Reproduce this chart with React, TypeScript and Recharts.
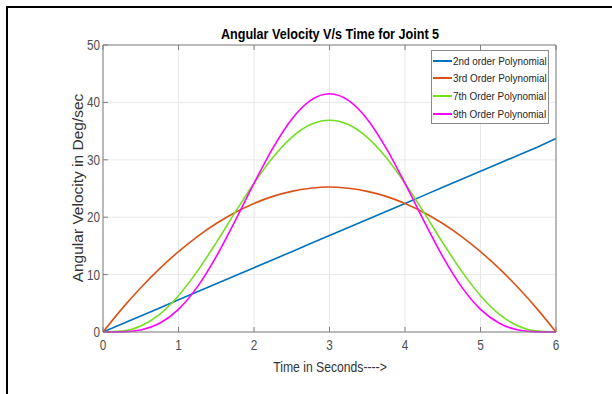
import React from "react";
import {
  LineChart,
  Line,
  XAxis,
  YAxis,
  CartesianGrid,
  Legend,
} from "recharts";

const times = [
  0, 0.25, 0.5, 0.75, 1, 1.25, 1.5, 1.75, 2, 2.25, 2.5, 2.75, 3, 3.25, 3.5,
  3.75, 4, 4.25, 4.5, 4.75, 5, 5.25, 5.5, 5.75, 6,
];
const secondOrder = [
  0, 1.4, 2.8, 4.2, 5.6, 7.0, 8.4, 9.8, 11.2, 12.6, 14.0, 15.4, 16.8, 18.2,
  19.6, 21.0, 22.4, 23.8, 25.2, 26.6, 28.0, 29.4, 30.8, 32.2, 33.7,
];
const thirdOrder = [
  0, 4.03, 7.7, 11.03, 14.0, 16.63, 18.9, 20.83, 22.4, 23.63, 24.5, 25.03,
  25.25, 25.03, 24.5, 23.63, 22.4, 20.83, 18.9, 16.63, 14.0, 11.03, 7.7, 4.03,
  0,
];
const seventhOrder = [
  0, 0.15, 1.05, 3.09, 6.33, 10.6, 15.57, 20.83, 25.92, 30.41, 33.91, 36.14,
  36.9, 36.14, 33.91, 30.41, 25.92, 20.83, 15.57, 10.6, 6.33, 3.09, 1.05, 0.15,
  0,
];
const ninthOrder = [
  0, 0.03, 0.36, 1.52, 3.95, 7.86, 13.13, 19.35, 25.9, 32.05, 37.08, 40.35,
  41.5, 40.35, 37.08, 32.05, 25.9, 19.35, 13.13, 7.86, 3.95, 1.52, 0.36, 0.03,
  0,
];
const xTicks = [0, 1, 2, 3, 4, 5, 6];
const yTicks = [0, 10, 20, 30, 40, 50];

const series = [
  { key: "second", name: "2nd order Polynomial", color: "#0072BD" },
  { key: "third", name: "3rd Order Polynomial", color: "#D95319" },
  { key: "seventh", name: "7th Order Polynomial", color: "#77DD22" },
  { key: "ninth", name: "9th Order Polynomial", color: "#FF00FF" },
];

const data = times.map((t, i) => ({
  t,
  second: secondOrder[i],
  third: thirdOrder[i],
  seventh: seventhOrder[i],
  ninth: ninthOrder[i],
}));

const font = "'Liberation Sans', Arial, sans-serif";
const axisColor = "#808080";
const squeeze = 0.84;

// MATLAB-ish narrow tick labels
const XTick = (props: any) => {
  const { x, y, payload } = props;
  return (
    <text
      transform={`translate(${x},${y}) scale(${squeeze},1)`}
      textAnchor="middle"
      dy="0.71em"
      fill="#4d4d4d"
      fontSize={14}
      fontFamily={font}
    >
      {payload.value}
    </text>
  );
};

const YTick = (props: any) => {
  const { x, y, payload } = props;
  return (
    <text
      transform={`translate(${x},${y}) scale(${squeeze},1)`}
      textAnchor="end"
      dy="0.355em"
      fill="#4d4d4d"
      fontSize={14}
      fontFamily={font}
    >
      {payload.value}
    </text>
  );
};

const LegendBox = () => (
  <div
    style={{
      border: "1px solid #8a8a8a",
      background: "#fff",
      padding: "1px 1px",
      width: 114,
      boxSizing: "content-box",
    }}
  >
    {series.map((s) => (
      <div
        key={s.key}
        style={{ display: "flex", alignItems: "center", height: 17.6 }}
      >
        <div
          style={{
            flexShrink: 0,
            width: 19,
            height: 2,
            background: s.color,
            marginRight: 1,
          }}
        />
        <span
          style={{
            fontFamily: font,
            fontSize: 11.8,
            color: "#262626",
            whiteSpace: "nowrap",
            display: "inline-block",
            transform: `scaleX(${squeeze})`,
            transformOrigin: "left center",
          }}
        >
          {s.name}
        </span>
      </div>
    ))}
  </div>
);

export default function App() {
  return (
    <div
      style={{
        position: "absolute",
        left: 0,
        top: 0,
        width: 612,
        height: 394,
        background: "#fff",
        overflow: "hidden",
      }}
    >
      <div
        style={{
          position: "absolute",
          left: 6,
          top: 6,
          width: 640,
          height: 420,
          borderLeft: "2px solid #000",
          borderTop: "2px solid #000",
        }}
      />
      <div
        style={{
          position: "absolute",
          left: 330,
          top: 33,
          transform: `translate(-50%, -50%) scaleX(${squeeze})`,
          whiteSpace: "nowrap",
          fontFamily: font,
          fontWeight: "bold",
          fontSize: 15,
          color: "#000",
        }}
      >
        Angular Velocity V/s Time for Joint 5
      </div>
      <div
        style={{
          position: "absolute",
          left: 78,
          top: 188,
          transform: "translate(-50%, -50%) rotate(-90deg)",
          whiteSpace: "nowrap",
          fontFamily: font,
          fontSize: 15.5,
          color: "#333",
        }}
      >
        Angular Velocity in Deg/sec
      </div>
      <div
        style={{
          position: "absolute",
          left: 330,
          top: 367,
          transform: `translate(-50%, -50%) scaleX(${squeeze})`,
          whiteSpace: "nowrap",
          fontFamily: font,
          fontSize: 14.5,
          color: "#333",
        }}
      >
        Time in Seconds----&gt;
      </div>
      <div style={{ position: "absolute", left: 0, top: 0 }}>
        <LineChart
          width={612}
          height={394}
          data={data}
          margin={{ top: 44, right: 55, bottom: 32, left: 63 }}
        >
          <CartesianGrid
            xAxisId="bottom"
            yAxisId="left"
            stroke="#e8e8e8"
            vertical
            horizontal
          />
          <XAxis
            xAxisId="bottom"
            dataKey="t"
            type="number"
            domain={[0, 6]}
            ticks={xTicks}
            height={30}
            stroke={axisColor}
            tickSize={-5}
            tickMargin={13}
            tick={<XTick />}
            interval={0}
          />
          <XAxis
            xAxisId="top"
            orientation="top"
            dataKey="t"
            type="number"
            domain={[0, 6]}
            ticks={xTicks}
            height={1}
            stroke={axisColor}
            tickSize={-5}
            tick={() => <g />}
            interval={0}
          />
          <YAxis
            yAxisId="left"
            type="number"
            domain={[0, 50]}
            ticks={yTicks}
            width={40}
            stroke={axisColor}
            tickSize={-5}
            tickMargin={8}
            tick={<YTick />}
            interval={0}
          />
          <YAxis
            yAxisId="right"
            orientation="right"
            type="number"
            domain={[0, 50]}
            ticks={yTicks}
            width={1}
            stroke={axisColor}
            tickSize={-5}
            tick={() => <g />}
            interval={0}
          />
          <Legend
            layout="vertical"
            align="center"
            verticalAlign="middle"
            content={() => <LegendBox />}
            wrapperStyle={{ top: 50, left: 431, width: 118 }}
          />
          {series.map((s) => (
            <Line
              key={s.key}
              xAxisId="bottom"
              yAxisId="left"
              dataKey={s.key}
              name={s.name}
              type={s.key === "second" ? "linear" : "monotone"}
              stroke={s.color}
              strokeWidth={1.6}
              dot={false}
              isAnimationActive={false}
            />
          ))}
        </LineChart>
      </div>
    </div>
  );
}
